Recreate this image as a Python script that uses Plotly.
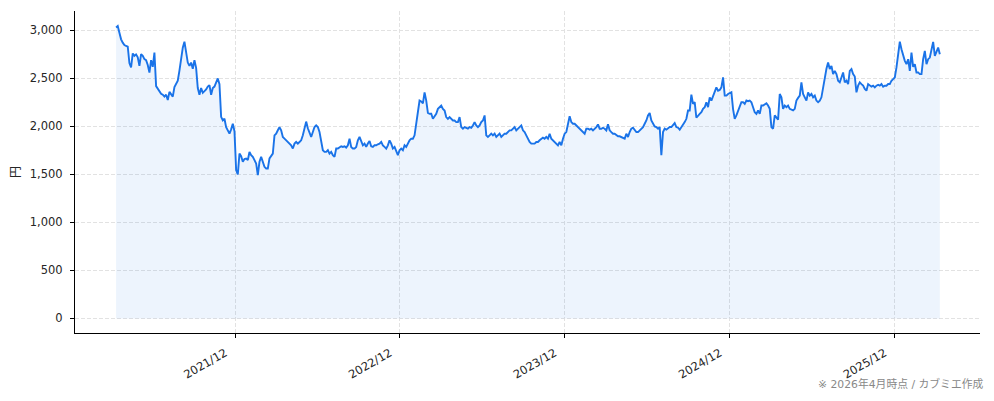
import pandas as pd
import plotly.graph_objects as go

# 終値（円）: 2021/03 〜 2026/03、ほぼ等間隔のサンプル
START, END = "2021-03-12", "2026-03-11"
price = [
    # 2021
    3030, 3045, 2975, 2907, 2872, 2848, 2838, 2830, 2660, 2614,
    2760, 2735, 2750, 2720, 2631, 2752, 2735, 2700, 2690, 2640,
    2560, 2690, 2620, 2769, 2420, 2390, 2370, 2340, 2330, 2310,
    2330, 2275, 2360, 2330, 2310, 2410, 2440, 2476, 2580, 2717,
    2820, 2883, 2750, 2665, 2630, 2665, 2600, 2690, 2610, 2400,
    2330, 2400, 2350, 2365, 2385, 2415, 2430, 2330, 2400, 2415,
    2450, 2500, 2440,
    2100, 2062, 2080, 1993, 1959, 1924, 1969, 2028, 1950, 1545,
    1500, 1717, 1690, 1631, 1660, 1666, 1650, 1734, 1700, 1683,
    1648, 1614, 1493, 1631, 1683, 1631, 1579, 1562, 1562, 1666,
    1700, 1717, 1907, 1924, 1960, 1993, 1960, 1890, 1873, 1855,
    1838, 1821, 1803, 1769, 1821, 1838, 1821, 1838, 1855, 1907,
    1993, 2050, 1980, 1941, 1890, 1941, 1993, 2010, 1993, 1941,
    1838, 1752, 1735,
    # 2022
    1735, 1752, 1717, 1735, 1700, 1683, 1769, 1769, 1786, 1793,
    1786, 1793, 1779, 1803, 1872, 1786, 1769, 1769, 1786, 1855,
    1890, 1838, 1803, 1821, 1786, 1821, 1848, 1793, 1786, 1803,
    1803, 1814, 1821, 1838, 1803, 1786, 1769, 1803, 1855, 1821,
    1769, 1786, 1735, 1700, 1752, 1769, 1752, 1803, 1786, 1821,
    1855, 1872, 1872, 1907, 2062, 2150, 2269, 2260, 2240, 2355,
    2269, 2140, 2131,
    # 2023
    2131, 2079, 2110, 2131, 2183, 2200, 2217, 2183, 2166, 2097,
    2079, 2097, 2079, 2062, 2062, 2045, 2045, 2097, 1993, 1976,
    1993, 1986, 1976, 1993, 1986, 2010, 2045, 2010, 1993, 2010,
    2045, 2062, 2114, 1907, 1890, 1907, 1924, 1907, 1924, 1890,
    1907, 1924, 1890, 1907, 1924, 1924, 1941, 1959, 1959, 1976,
    1993, 1959, 1976, 1993, 2010, 1959, 1941, 1907, 1872, 1838,
    1821, 1821, 1821,
    1838, 1838, 1855, 1872, 1883, 1872, 1890, 1872, 1924, 1872,
    1855, 1838, 1821, 1803, 1838, 1803, 1872, 1924, 1941, 2010,
    2105, 2045, 2028, 2028, 2010, 1993, 1976, 1959, 1941, 1924,
    1976, 1976, 1966, 1976, 1959, 1976, 1993, 2021, 1976, 1976,
    1986, 1976, 1959, 2021, 1959, 1941, 1924, 1924, 1907, 1897,
    1897, 1890, 1883, 1872, 1924, 1890, 1941, 1976, 1986, 1959,
    1941, 1941, 1959,
    # 2024
    1976, 1993, 2028, 2062, 2114, 2140, 2062, 2028, 2000, 1993,
    1976, 1993, 1700, 1941, 1976, 1966, 1976, 1993, 1993, 2010,
    2035, 1993, 1986, 1966, 1993, 2010, 2045, 2079, 2166, 2166,
    2331, 2234, 2252, 2090, 2114, 2131, 2148, 2183, 2200, 2252,
    2200, 2303, 2269, 2321, 2372, 2407, 2372, 2380, 2407, 2510,
    2321, 2321, 2338, 2345, 2355, 2180, 2079, 2114, 2166, 2200,
    2252, 2252, 2234,
    # 2025
    2269, 2262, 2269, 2252, 2200, 2148, 2131, 2166, 2131, 2217,
    2217, 2234, 2241, 2217, 2183, 1993, 1976, 2114, 2097, 2070,
    2338, 2303, 2183, 2217, 2200, 2217, 2183, 2172, 2166, 2183,
    2269, 2297, 2321, 2459, 2338, 2303, 2269, 2355, 2321, 2338,
    2303, 2321, 2269, 2252, 2269, 2303, 2407, 2528, 2600, 2666,
    2597, 2631, 2545, 2579, 2545, 2476, 2459, 2510, 2562, 2459,
    2476, 2441, 2579,
    2597, 2545, 2520, 2355, 2424, 2459, 2441, 2424, 2390, 2372,
    2441, 2424, 2414, 2424, 2407, 2424, 2434, 2424, 2441, 2414,
    2424, 2424, 2441, 2441, 2476, 2493, 2510, 2614, 2752, 2883,
    # 2026
    2803, 2735, 2683, 2648, 2700, 2579, 2769, 2620, 2648, 2562,
    2562, 2545, 2545, 2700, 2786, 2648, 2700, 2717, 2803, 2880,
    2735, 2790, 2821, 2752,
]
dates = pd.date_range(START, END, periods=len(price))

tick_dates = ["2021-12-01", "2022-12-01", "2023-12-01", "2024-12-01", "2025-12-01"]
tick_labels = ["2021/12", "2022/12", "2023/12", "2024/12", "2025/12"]
y_ticks = [0, 500, 1000, 1500, 2000, 2500, 3000]
y_labels = [f"{v:,}" for v in y_ticks]

LINE = "#1a73e8"
GRID = "#e2e2e2"
FONT = "DejaVu Sans, Noto Sans CJK JP"

fig = go.Figure()
fig.add_trace(go.Scatter(
    x=dates, y=price, mode="lines",
    line=dict(color=LINE, width=1.9),
    fill="tozeroy", fillcolor="rgba(26,115,232,0.08)",
    hoverinfo="skip", showlegend=False,
))

axis_common = dict(
    showline=True, linecolor="black", linewidth=1,
    ticks="outside", ticklen=4, tickwidth=1, tickcolor="black",
    showgrid=True, gridcolor=GRID, gridwidth=0.8, griddash="4px,2px",
    zeroline=False, automargin=False,
)

fig.update_layout(
    width=994, height=401,
    margin=dict(l=75, r=14, t=11, b=68),
    paper_bgcolor="white", plot_bgcolor="white",
    font=dict(family=FONT, size=11.5, color="#262626"),
    xaxis=dict(
        range=["2020-12-11", "2026-06-08"],
        tickvals=tick_dates, ticktext=tick_labels, tickangle=-30,
        ticklabelshift=-10, ticklabelstandoff=4,
        **axis_common,
    ),
    yaxis=dict(
        range=[-152, 3202],
        tickvals=y_ticks, ticktext=y_labels,
        ticklabelstandoff=5,
        title=dict(text="円", standoff=6, font=dict(family="Noto Sans CJK JP", size=12)),
        **axis_common,
    ),
)

fig.add_annotation(
    text="※ 2026年4月時点 / カブミエ作成",
    xref="paper", yref="paper", x=1.005, y=-0.158,
    xanchor="right", yanchor="middle", showarrow=False,
    font=dict(size=10.8, color="#888888"),
)

# ページ既定の body 余白 (8px) を消して図を左上に合わせる
fig.write_html(
    "out.html",
    config={"displayModeBar": False},
    post_script="document.body.style.margin = '0';",
)
